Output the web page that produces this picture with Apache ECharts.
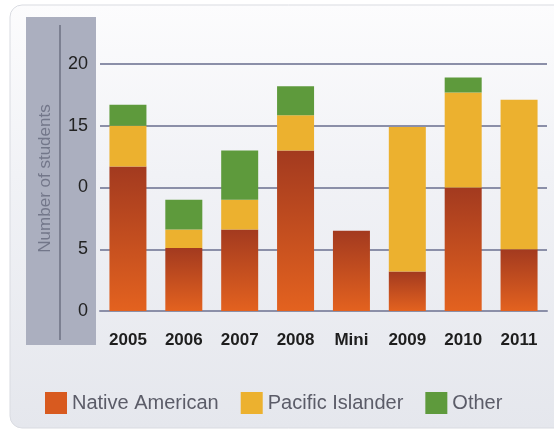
<!DOCTYPE html>
<html>
<head>
<meta charset="utf-8">
<script src="https://cdn.jsdelivr.net/npm/echarts@6/dist/echarts.min.js"></script>
<style>
  html, body { margin: 0; padding: 0; background: #ffffff; }
  #chart { width: 554px; height: 430px; }
</style>
</head>
<body>
<div id="chart"></div>
<script>
var categories = ['2005', '2006', '2007', '2008', 'Mini', '2009', '2010', '2011'];
var native_american = [11.7, 5.1, 6.6, 13.0, 6.5, 3.2, 10.0, 5.0];
var pacific_islander = [3.3, 1.5, 2.4, 2.85, 0, 11.7, 7.7, 12.1];
var other = [1.7, 2.4, 4.0, 2.35, 0, 0, 1.2, 0];
var y_tick_labels = ['0', '5', '0', '15', '20'];

var chart_div = echarts.init(document.getElementById('chart'));

var native_fill = new echarts.graphic.LinearGradient(0, 0, 0, 1, [
  { offset: 0, color: '#a33a1f' },
  { offset: 1, color: '#e3621f' }
]);

var option = {
  animation: false,
  textStyle: { fontFamily: 'Liberation Sans' },
  graphic: [
    {
      type: 'rect', z: -10,
      shape: { x: 10, y: 5, width: 570, height: 423, r: 12 },
      style: {
        fill: new echarts.graphic.LinearGradient(0, 0, 0, 1, [
          { offset: 0, color: '#fcfcfd' },
          { offset: 0.4, color: '#f1f2f6' },
          { offset: 1, color: '#e5e7ed' }
        ]),
        stroke: '#d9dbe1', lineWidth: 1
      }
    },
    {
      type: 'rect', z: -9,
      shape: { x: 26, y: 17, width: 70, height: 328 },
      style: { fill: '#abafbf' }
    },
    {
      type: 'line', z: -8,
      shape: { x1: 60, y1: 25, x2: 60, y2: 340 },
      style: { stroke: '#6c7082', lineWidth: 1.5 }
    }
  ],
  legend: {
    left: 40,
    top: 387,
    icon: 'rect',
    itemWidth: 22,
    itemHeight: 22,
    itemGap: 22,
    textStyle: { fontSize: 20, color: '#5b5c68' },
    data: [
      { name: 'Native American', itemStyle: { color: '#d85a1f' } },
      { name: 'Pacific Islander', itemStyle: { color: '#ecb12f' } },
      { name: 'Other', itemStyle: { color: '#5e9a3c' } }
    ]
  },
  grid: {
    left: 100,
    right: 7,
    top: 64,
    bottom: 119,
    containLabel: false
  },
  xAxis: {
    type: 'category',
    data: categories,
    axisTick: { show: false },
    axisLine: { lineStyle: { color: '#8b8fa8', width: 2 } },
    axisLabel: { margin: 21, fontSize: 17, fontWeight: 'bold', color: '#1e1e1e' }
  },
  yAxis: {
    type: 'value',
    min: 0,
    max: 20,
    interval: 5,
    name: 'Number of students',
    nameLocation: 'middle',
    nameRotate: 90,
    nameGap: 46,
    nameTextStyle: { fontSize: 17, color: '#73778a', padding: [0, 0, 0, 18] },
    axisLine: { show: false },
    axisTick: { show: false },
    splitLine: { lineStyle: { color: '#8b8fa8', width: 2 } },
    axisLabel: {
      margin: 12,
      fontSize: 18,
      color: '#222222',
      formatter: function (v) { return y_tick_labels[Math.round(v / 5)]; }
    }
  },
  series: [
    {
      name: 'Native American',
      type: 'bar',
      stack: 'total',
      barWidth: 37,
      itemStyle: { color: native_fill },
      data: native_american
    },
    {
      name: 'Pacific Islander',
      type: 'bar',
      stack: 'total',
      barWidth: 37,
      itemStyle: { color: '#ecb12f' },
      data: pacific_islander
    },
    {
      name: 'Other',
      type: 'bar',
      stack: 'total',
      barWidth: 37,
      itemStyle: { color: '#5e9a3c' },
      data: other
    }
  ]
};

chart_div.setOption(option, true);
</script>
</body>
</html>
